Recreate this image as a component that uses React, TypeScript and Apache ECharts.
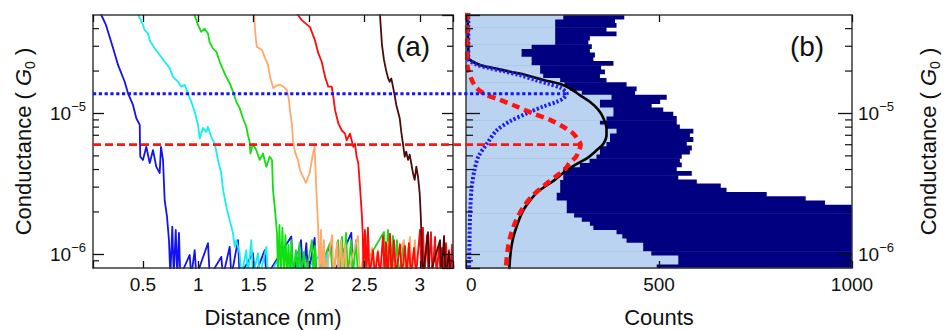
import React, { useEffect, useRef } from "react";
import * as echarts from "echarts";

const FONT = '"Liberation Sans", Arial, Helvetica, sans-serif';
const INK = "#111111";

// ---------- axis ranges / ticks ----------
const distanceRange = [0.05, 3.3];
const distanceStep = 0.5;
const conductanceRange = [8e-7, 5e-5];
const countRange = [0, 1000];
const countInterval = 500;
const minorConductanceTicks = [9e-7, 2e-6, 3e-6, 4e-6, 5e-6, 6e-6, 7e-6, 8e-6, 9e-6, 2e-5, 3e-5, 4e-5];

// ---------- panel (a): conductance traces [distance nm, G/G0] ----------
const traceBlue = [
  [0.095, 5.6e-5], [0.125, 5.0e-5], [0.167, 4.25e-5], [0.231, 2.92e-5], [0.276, 2.21e-5], [0.336, 1.68e-5],
  [0.366, 1.39e-5], [0.411, 1.15e-5], [0.441, 9.25e-6], [0.472, 8.3e-6], [0.474, 6.2e-6], [0.477, 4.93e-6],
  [0.501, 4.68e-6], [0.531, 5.8e-6], [0.562, 4.45e-6], [0.592, 5.5e-6], [0.621, 4.19e-6], [0.652, 3.78e-6],
  [0.664, 5.8e-6], [0.682, 4.68e-6], [0.697, 2.43e-6], [0.718, 1.85e-6], [0.736, 1.26e-6], [0.748, 7e-7],
  [0.766, 1.57e-6], [0.779, 7e-7], [0.797, 1.49e-6], [0.811, 7e-7], [0.826, 1.42e-6], [0.838, 7e-7],
  [0.923, 9.9e-7], [0.937, 7e-7], [0.968, 1.07e-6], [0.983, 7e-7], [1.088, 1.2e-6], [1.104, 7e-7],
  [1.208, 9.6e-7], [1.224, 7e-7], [1.284, 1.13e-6], [1.299, 7e-7], [1.359, 1.26e-6], [1.374, 7e-7],
  [1.494, 1.02e-6], [1.51, 7e-7], [1.6, 1.07e-6], [1.615, 7e-7], [1.84, 1.34e-6], [1.856, 7e-7],
  [1.928, 1.26e-6], [1.946, 7e-7], [1.976, 1.2e-6], [1.991, 7e-7], [2.051, 1.31e-6], [2.066, 7e-7],
  [2.2, 1.2e-6], [2.214, 7e-7], [2.382, 1.42e-6], [2.397, 7e-7],
];
const traceCyan = [
  [0.441, 5.4e-5], [0.501, 4.25e-5], [0.517, 3.9e-5], [0.547, 3.7e-5], [0.562, 3.3e-5], [0.607, 2.9e-5],
  [0.652, 2.6e-5], [0.697, 2.33e-5], [0.743, 2.1e-5], [0.772, 1.82e-5], [0.817, 1.68e-5], [0.847, 1.55e-5],
  [0.878, 1.6e-5], [0.908, 1.39e-5], [0.937, 1.21e-5], [0.968, 1.03e-5], [0.998, 8.3e-6], [1.013, 6.65e-6],
  [1.043, 7.9e-6], [1.073, 7.4e-6], [1.088, 8.05e-6], [1.118, 6.8e-6], [1.149, 6.1e-6], [1.178, 4.68e-6],
  [1.208, 3.76e-6], [1.224, 2.88e-6], [1.253, 2.19e-6], [1.284, 1.75e-6], [1.314, 1.41e-6], [1.329, 1.13e-6],
  [1.344, 1.26e-6], [1.374, 1.02e-6], [1.389, 7e-7], [1.434, 1.07e-6], [1.449, 7e-7], [1.479, 1.26e-6],
  [1.494, 7e-7], [1.54, 1.02e-6], [1.555, 7e-7], [1.615, 1.13e-6], [1.63, 7e-7], [1.795, 1.13e-6],
  [1.81, 7e-7], [1.905, 1.02e-6], [1.92, 7e-7], [2.126, 1.04e-6], [2.141, 7e-7], [2.162, 1.07e-6], [2.176, 7e-7],
];
const traceGreen = [
  [0.953, 5.4e-5], [0.998, 4.25e-5], [1.027, 3.8e-5], [1.058, 4.0e-5], [1.088, 3.7e-5], [1.103, 3.2e-5],
  [1.133, 2.9e-5], [1.163, 2.75e-5], [1.194, 2.33e-5], [1.224, 2.04e-5], [1.253, 1.82e-5], [1.284, 1.64e-5],
  [1.314, 1.43e-5], [1.344, 1.21e-5], [1.374, 1.09e-5], [1.404, 9.25e-6], [1.434, 8.05e-6], [1.449, 7.0e-6],
  [1.464, 6.3e-6], [1.471, 5.2e-6], [1.494, 6.1e-6], [1.524, 5.5e-6], [1.555, 4.68e-6], [1.585, 5.2e-6],
  [1.615, 4.19e-6], [1.645, 4.93e-6], [1.666, 4.68e-6], [1.675, 2.88e-6], [1.693, 2.07e-6], [1.711, 1.42e-6],
  [1.72, 7e-7], [1.733, 1.62e-6], [1.746, 7e-7], [1.76, 1.55e-6], [1.774, 7e-7], [1.787, 1.37e-6],
  [1.801, 7e-7], [1.815, 1.17e-6], [1.828, 7e-7], [1.842, 1.26e-6], [1.856, 7e-7], [1.882, 1.07e-6],
  [1.896, 7e-7], [1.914, 1.2e-6], [1.928, 7e-7], [1.955, 1.04e-6], [1.969, 7e-7], [2.027, 1.26e-6],
  [2.041, 7e-7], [2.054, 1.15e-6], [2.068, 7e-7], [2.19, 1.2e-6], [2.217, 7e-7], [2.262, 1.26e-6],
  [2.28, 7e-7], [2.298, 1.33e-6], [2.316, 7e-7], [2.334, 1.42e-6], [2.352, 7e-7], [2.379, 1.26e-6],
  [2.397, 7e-7], [2.424, 1.26e-6], [2.442, 7e-7], [2.677, 1.44e-6], [2.695, 7e-7], [2.713, 1.49e-6],
  [2.731, 7e-7], [2.758, 1.35e-6], [2.776, 7e-7], [2.794, 1.26e-6], [2.812, 7e-7], [2.857, 1.22e-6],
  [2.875, 7e-7], [2.902, 1.17e-6], [2.92, 7e-7],
];
const traceOrange = [
  [1.503, 5.4e-5], [1.513, 3.9e-5], [1.528, 2.98e-5], [1.576, 2.82e-5], [1.603, 2.48e-5], [1.63, 2.21e-5],
  [1.648, 1.82e-5], [1.678, 1.51e-5], [1.702, 1.57e-5], [1.738, 1.6e-5], [1.774, 1.54e-5], [1.801, 1.47e-5],
  [1.819, 1.25e-5], [1.828, 1.06e-5], [1.846, 8.3e-6], [1.855, 6.45e-6], [1.873, 5.36e-6], [1.9, 4.68e-6],
  [1.918, 3.97e-6], [1.946, 3.56e-6], [1.973, 3.22e-6], [2.006, 3.78e-6], [2.036, 5.2e-6], [2.051, 5.8e-6],
  [2.066, 2.88e-6], [2.081, 1.67e-6], [2.096, 7e-7], [2.108, 1.49e-6], [2.122, 7e-7], [2.135, 1.26e-6],
  [2.149, 7e-7], [2.208, 1.37e-6], [2.221, 7e-7], [2.253, 1.22e-6], [2.266, 7e-7], [2.289, 1.26e-6],
  [2.303, 7e-7], [2.325, 1.18e-6], [2.343, 7e-7], [2.442, 1.35e-6], [2.46, 7e-7], [2.532, 1.44e-6],
  [2.55, 7e-7], [2.569, 1.11e-6], [2.587, 7e-7], [2.622, 1.07e-6], [2.641, 7e-7], [2.713, 1.22e-6],
  [2.731, 7e-7], [2.857, 1.26e-6], [2.875, 7e-7], [2.911, 1.33e-6], [2.929, 7e-7], [2.956, 1.26e-6],
  [2.975, 7e-7],
];
const traceRed = [
  [1.882, 5.4e-5], [1.9, 5.0e-5], [1.934, 4.6e-5], [2.009, 4.1e-5], [2.054, 3.3e-5], [2.084, 2.68e-5],
  [2.115, 2.33e-5], [2.145, 1.82e-5], [2.174, 1.55e-5], [2.205, 1.55e-5], [2.219, 1.32e-5], [2.235, 1.06e-5],
  [2.265, 8.5e-6], [2.295, 7.6e-6], [2.325, 7.2e-6], [2.34, 6.45e-6], [2.37, 7.2e-6], [2.4, 5.8e-6],
  [2.415, 6.1e-6], [2.43, 4.93e-6], [2.445, 4.44e-6], [2.46, 3.04e-6], [2.476, 1.97e-6], [2.485, 1.41e-6],
  [2.492, 7e-7], [2.505, 1.49e-6], [2.519, 7e-7], [2.532, 1.55e-6], [2.546, 7e-7], [2.578, 1.07e-6],
  [2.596, 7e-7], [2.622, 1.04e-6], [2.641, 7e-7], [2.668, 1.35e-6], [2.682, 7e-7], [2.695, 1.22e-6],
  [2.709, 7e-7], [2.731, 1.4e-6], [2.745, 7e-7], [2.767, 1.26e-6], [2.785, 7e-7], [2.821, 1.18e-6],
  [2.839, 7e-7], [2.866, 1.15e-6], [2.884, 7e-7], [2.902, 1.2e-6], [2.92, 7e-7], [2.948, 1.11e-6],
  [2.966, 7e-7], [3.002, 1.49e-6], [3.016, 7e-7], [3.029, 1.55e-6], [3.043, 7e-7], [3.065, 1.37e-6],
  [3.079, 7e-7], [3.101, 1.44e-6], [3.115, 7e-7], [3.138, 1.33e-6], [3.151, 7e-7], [3.174, 1.15e-6],
  [3.188, 7e-7], [3.201, 1.11e-6], [3.215, 7e-7], [3.237, 1.2e-6], [3.251, 7e-7], [3.264, 1.07e-6],
  [3.278, 7e-7], [3.291, 1.17e-6], [3.309, 7e-7],
];
const traceBrown = [
  [2.638, 5.4e-5], [2.65, 3.9e-5], [2.659, 3.05e-5], [2.677, 2.4e-5], [2.695, 2.04e-5], [2.713, 1.79e-5],
  [2.728, 1.68e-5], [2.743, 1.77e-5], [2.758, 1.55e-5], [2.773, 1.35e-5], [2.788, 1.15e-5], [2.819, 9.25e-6],
  [2.833, 7.4e-6], [2.848, 6.1e-6], [2.864, 4.93e-6], [2.878, 5.36e-6], [2.894, 4.68e-6], [2.909, 5.1e-6],
  [2.923, 4.44e-6], [2.939, 3.76e-6], [2.954, 3.38e-6], [2.969, 4.19e-6], [2.984, 3.56e-6], [2.999, 2.73e-6],
  [3.008, 1.97e-6], [3.017, 1.26e-6], [3.029, 7e-7], [3.074, 1.44e-6], [3.088, 7e-7], [3.183, 1.26e-6],
  [3.197, 7e-7], [3.219, 1.35e-6], [3.233, 7e-7], [3.264, 1.04e-6], [3.278, 7e-7],
];
const traces = [traceBlue, traceCyan, traceGreen, traceOrange, traceRed, traceBrown];
const traceColors = ["#1212f2", "#12f0f0", "#10e010", "#ffa868", "#ff0a0a", "#4e0a0a"];

// ---------- panel (b): histogram (bins in log10 G, bottom -> top) ----------
const histLogStart = -6.1;
const histLogStep = 0.03;
const histAllCounts = [
  1560, 1550, 1540, 1520, 1500, 1480, 1450, 1420, 1380, 1340, 1290, 1230, 1180, 1120, 1040, 930, 880, 779, 675, 660,
  598, 550, 585, 546, 559, 554, 559, 580, 585, 572, 589, 580, 589, 554, 546, 546, 537, 511, 481, 503,
  520, 438, 442, 416, 364, 347, 360, 350, 382, 330, 334, 321, 326, 317, 321, 390, 364, 390, 386, 410,
];
const histSelectedCounts = [
  494, 550, 550, 480, 459, 459, 416, 405, 390, 330, 321, 300, 280, 261, 261, 261, 235, 235, 244, 244,
  244, 252, 252, 252, 295, 320, 338, 347, 347, 364, 373, 373, 390, 364, 347, 364, 382, 382, 347, 347,
  377, 300, 269, 255, 244, 200, 192, 192, 170, 170, 144, 144, 170, 231, 231, 231, 231, 231, 231, 252,
];

// fitted curves [counts, G/G0]
const fitTotal = [
  [5, 5.2e-5], [5, 3.7e-5], [6, 2.82e-5], [6, 2.53e-5], [10, 2.4e-5], [36, 2.21e-5], [71, 2.1e-5], [114, 1.98e-5],
  [157, 1.87e-5], [200, 1.73e-5], [244, 1.62e-5], [269, 1.51e-5], [295, 1.35e-5], [321, 1.21e-5], [343, 1.06e-5],
  [356, 9.25e-6], [364, 7.8e-6], [364, 7.0e-6], [356, 6.1e-6], [339, 5.5e-6], [313, 4.8e-6], [285, 4.35e-6],
  [255, 3.85e-6], [230, 3.38e-6], [205, 3.04e-6], [183, 2.73e-6], [160, 2.3e-6], [145, 1.97e-6], [132, 1.6e-6],
  [122, 1.3e-6], [116, 1.05e-6], [112, 7.8e-7],
];
const fitLowPeak = [
  [3, 5.2e-5], [3, 2.5e-5], [4, 2.15e-5], [15, 1.73e-5], [28, 1.51e-5], [54, 1.35e-5], [88, 1.25e-5], [131, 1.12e-5],
  [174, 1.0e-5], [218, 9.0e-6], [252, 8.05e-6], [278, 7.2e-6], [291, 6.45e-6], [297, 6.0e-6], [293, 5.5e-6],
  [285, 4.93e-6], [268, 4.44e-6], [255, 3.97e-6], [232, 3.56e-6], [200, 3.04e-6], [172, 2.6e-6], [150, 2.19e-6],
  [130, 1.75e-6], [115, 1.34e-6], [108, 1.07e-6], [103, 7.8e-7],
];
const fitHighPeak = [
  [6, 5.2e-5], [6, 3e-5], [6, 2.5e-5], [7, 2.4e-5], [30, 2.21e-5], [60, 2.1e-5], [100, 1.99e-5], [140, 1.87e-5],
  [180, 1.73e-5], [215, 1.62e-5], [244, 1.52e-5], [261, 1.38e-5], [252, 1.28e-5], [235, 1.21e-5], [200, 1.12e-5],
  [157, 1.0e-5], [114, 8.8e-6], [80, 7.6e-6], [54, 6.1e-6], [32, 4.93e-6], [22, 3.97e-6], [15, 3.04e-6],
  [11, 2.07e-6], [9, 1.26e-6], [8, 7.8e-7],
];
const highPeakLevel = 1.38e-5;
const highPeakCount = 261;
const lowPeakLevel = 6.0e-6;
const lowPeakCount = 297;

// ---------- helpers ----------
const logLabel = (v: number) => {
  const e = Math.log10(v);
  const r = Math.round(e);
  if (Math.abs(e - r) > 1e-6) return "";
  return `{b|10}{s|${r < 0 ? "\u2212" + Math.abs(r) : r}}`;
};
const logRich = {
  b: { fontSize: 19, fontFamily: FONT, color: INK, lineHeight: 26 },
  s: { fontSize: 13, fontFamily: FONT, color: INK, lineHeight: 13, verticalAlign: "top" },
};
const nameRich = {
  i: { fontSize: 22, fontFamily: FONT, color: INK, fontStyle: "italic", lineHeight: 28 },
  sub: { fontSize: 14, fontFamily: FONT, color: INK, lineHeight: 14, verticalAlign: "bottom" },
};
const axisLine = { show: true, onZero: false, lineStyle: { color: "#3a3a3a", width: 1.5 } };
const tick = (len: number) => ({ show: true, inside: true, length: len, lineStyle: { color: INK, width: 1.3 } });

const minorTickSeries = (xAxisIndex: number, yAxisIndex: number, xAnchor: number, len: number) => ({
  type: "custom",
  xAxisIndex,
  yAxisIndex,
  silent: true,
  z: 20,
  data: minorConductanceTicks.map((g) => [xAnchor, g]),
  renderItem: (params: any, api: any) => {
    const cs = params.coordSys;
    const y = api.coord([api.value(0), api.value(1)])[1];
    const st = { stroke: INK, lineWidth: 1.2 };
    return {
      type: "group",
      children: [
        { type: "line", shape: { x1: cs.x, y1: y, x2: cs.x + len, y2: y }, style: st },
        { type: "line", shape: { x1: cs.x + cs.width - len, y1: y, x2: cs.x + cs.width, y2: y }, style: st },
      ],
    };
  },
});

const histSeries = (counts: number[], color: string) => ({
  type: "custom",
  xAxisIndex: 2,
  yAxisIndex: 2,
  silent: true,
  encode: { x: 0, y: [1, 2] },
  data: counts.map((c, i) => [c, Math.pow(10, histLogStart + i * histLogStep), Math.pow(10, histLogStart + (i + 1) * histLogStep)]),
  renderItem: (params: any, api: any) => {
    const cs = params.coordSys;
    const a = api.coord([0, api.value(1)]);
    const b = api.coord([api.value(0), api.value(2)]);
    const x0 = Math.max(a[0], cs.x);
    const x1 = Math.min(b[0], cs.x + cs.width);
    const yTop = Math.max(b[1], cs.y);
    const yBot = Math.min(a[1], cs.y + cs.height);
    if (x1 <= x0 || yBot <= yTop) return null;
    return { type: "rect", shape: { x: x0, y: yTop - 0.3, width: x1 - x0, height: yBot - yTop + 0.6 }, style: { fill: color } };
  },
});

function buildOption() {
  const distLabel = (v: number) => (Math.abs(v / distanceStep - Math.round(v / distanceStep)) < 1e-6 ? String(v) : "");
  const tickLabel = { fontSize: 19, fontFamily: FONT, color: INK, margin: 7 };
  const nameStyle = { fontSize: 22, fontFamily: FONT, color: INK };
  const yName = "Conductance ( {i|G}{sub|0} )";
  const yNameStyle = { fontSize: 22, fontFamily: FONT, color: INK, lineHeight: 28, rich: nameRich };
  const logBase = {
    type: "log",
    logBase: 10,
    min: conductanceRange[0],
    max: conductanceRange[1],
    axisLine,
    splitLine: { show: false },
    minorTick: { show: false },
    z: 10,
  };
  return {
    animation: false,
    backgroundColor: "#ffffff",
    grid: [
      { left: 93, top: 15, width: 360, height: 253, outerBoundsMode: "none" },
      { left: 466, top: 15, width: 386, height: 253, outerBoundsMode: "none" },
    ],
    xAxis: [
      {
        gridIndex: 0, type: "value", position: "bottom", min: distanceRange[0], max: distanceRange[1], splitNumber: 6,
        axisLine, axisTick: tick(7), splitLine: { show: false }, z: 10,
        axisLabel: { ...tickLabel, formatter: distLabel },
        name: "Distance (nm)", nameLocation: "middle", nameGap: 38, nameTextStyle: nameStyle,
      },
      {
        gridIndex: 0, type: "value", position: "top", min: distanceRange[0], max: distanceRange[1], splitNumber: 6,
        axisLine, axisTick: tick(7), splitLine: { show: false }, axisLabel: { show: false }, z: 10,
      },
      {
        gridIndex: 1, type: "value", position: "bottom", min: countRange[0], max: countRange[1], interval: countInterval,
        axisLine, axisTick: tick(7), splitLine: { show: false }, z: 10,
        axisLabel: { ...tickLabel, alignMinLabel: "left", formatter: (v: number) => String(v) },
        name: "Counts", nameLocation: "middle", nameGap: 38, nameTextStyle: nameStyle,
      },
      {
        gridIndex: 1, type: "value", position: "top", min: countRange[0], max: countRange[1], interval: countInterval,
        axisLine, axisTick: tick(7), splitLine: { show: false }, axisLabel: { show: false }, z: 10,
      },
    ],
    yAxis: [
      {
        ...logBase, gridIndex: 0, position: "left", axisTick: tick(11),
        axisLabel: { formatter: logLabel, rich: logRich, margin: 7, showMinLabel: false, showMaxLabel: false },
        name: yName, nameLocation: "middle", nameRotate: 90, nameGap: 56, nameTextStyle: yNameStyle,
      },
      { ...logBase, gridIndex: 0, position: "right", axisTick: tick(11), axisLabel: { show: false } },
      { ...logBase, gridIndex: 1, position: "left", axisTick: tick(14), axisLabel: { show: false } },
      {
        ...logBase, gridIndex: 1, position: "right", axisTick: tick(14),
        axisLabel: { formatter: logLabel, rich: logRich, margin: 6, showMinLabel: false, showMaxLabel: false },
        name: yName, nameLocation: "middle", nameRotate: 90, nameGap: 62, nameTextStyle: yNameStyle,
      },
    ],
    series: [
      ...traces.map((t, i) => ({
        type: "line",
        xAxisIndex: 0,
        yAxisIndex: 0,
        data: t,
        showSymbol: false,
        symbol: "none",
        silent: true,
        clip: true,
        lineStyle: { color: traceColors[i], width: 1.8, join: "round" },
      })),
      minorTickSeries(0, 0, distanceRange[0], 6),
      histSeries(histAllCounts, "#000080"),
      histSeries(histSelectedCounts, "#bad3f0"),
      {
        type: "line", xAxisIndex: 2, yAxisIndex: 2, data: fitTotal, symbol: "none", silent: true, smooth: 0.3, clip: true,
        lineStyle: { color: "#000000", width: 2.6 }, z: 4,
      },
      {
        type: "line", xAxisIndex: 2, yAxisIndex: 2, data: fitHighPeak, symbol: "none", silent: true, smooth: 0.3, clip: true,
        lineStyle: { color: "#1a1aff", width: 4, type: [2.2, 2] }, z: 5,
      },
      {
        type: "line", xAxisIndex: 2, yAxisIndex: 2, data: fitLowPeak, symbol: "none", silent: true, smooth: 0.3, clip: true,
        lineStyle: { color: "#ff1414", width: 4.5, type: [8, 5] }, z: 6,
      },
      minorTickSeries(2, 2, countRange[0], 7),
    ],
  };
}

export default function App() {
  const ref = useRef<HTMLDivElement>(null);
  useEffect(() => {
    const el = ref.current;
    if (!el) return;
    const chart = echarts.init(el, null, { renderer: "svg" });
    chart.setOption(buildOption() as any);

    const px = (finder: any, v: number[]) => chart.convertToPixel(finder, v) as unknown as number[];
    const hiA = px({ xAxisIndex: 0, yAxisIndex: 0 }, [distanceRange[0], highPeakLevel]);
    const hiB = px({ xAxisIndex: 2, yAxisIndex: 2 }, [highPeakCount, highPeakLevel]);
    const loA = px({ xAxisIndex: 0, yAxisIndex: 0 }, [distanceRange[0], lowPeakLevel]);
    const loB = px({ xAxisIndex: 2, yAxisIndex: 2 }, [lowPeakCount, lowPeakLevel]);

    chart.setOption({
      graphic: [
        {
          type: "line", z: 100, silent: true,
          shape: { x1: hiA[0], y1: hiA[1], x2: hiB[0], y2: hiB[1] },
          style: { stroke: "#1414ff", lineWidth: 3.2, lineDash: [3.2, 2.6] },
        },
        {
          type: "line", z: 100, silent: true,
          shape: { x1: loA[0], y1: loA[1], x2: loB[0], y2: loB[1] },
          style: { stroke: "#ff1414", lineWidth: 2.8, lineDash: [8, 4] },
        },
        {
          type: "text", z: 100, silent: true, x: 413, y: 46,
          style: { text: "(a)", fontSize: 28, fontFamily: FONT, fill: INK, align: "center", verticalAlign: "middle" },
        },
        {
          type: "text", z: 100, silent: true, x: 807, y: 46,
          style: { text: "(b)", fontSize: 28, fontFamily: FONT, fill: INK, align: "center", verticalAlign: "middle" },
        },
      ],
    });
    return () => chart.dispose();
  }, []);
  return <div ref={ref} style={{ position: "absolute", left: 0, top: 0, width: 945, height: 330 }} />;
}
